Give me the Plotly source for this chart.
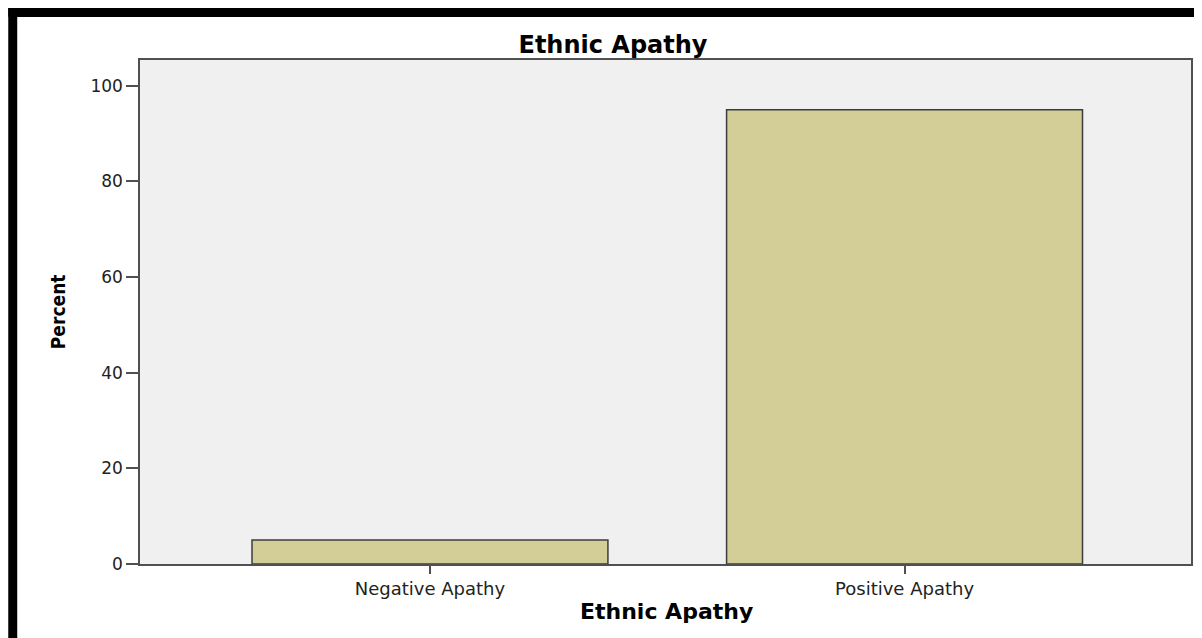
import plotly.graph_objects as go

categories = ["Negative Apathy", "Positive Apathy"]
percent = [5.0, 95.0]
y_ticks = [0, 20, 40, 60, 80, 100]

# page body has an 8px margin; lay out in page pixels, subtract offset
OFF = 8
PAGE_W, PAGE_H = 1202, 638
W, H = PAGE_W - 2 * OFF, PAGE_H - OFF
PLOT_L, PLOT_R, PLOT_T, PLOT_B = 140, 1193, 60, 564  # page pixels
L = PLOT_L - OFF
T = PLOT_T - OFF
R = W - (PLOT_R - OFF)
B = H - (PLOT_B - OFF)
pw, ph = W - L - R, H - T - B


def px_x(px):
    return (px - OFF - L) / pw


def px_y(py):
    return (H - B - (py - OFF)) / ph


fig = go.Figure(
    go.Bar(
        x=categories,
        y=percent,
        width=0.75,
        marker=dict(color="#d3ce98", line=dict(color="#3c3c3c", width=1.5)),
        hoverinfo="x+y",
    )
)

fig.update_layout(
    width=W,
    height=H,
    margin=dict(l=L, r=R, t=T, b=B),
    paper_bgcolor="#ffffff",
    plot_bgcolor="#f0f0f0",
    showlegend=False,
    title=dict(
        text="Ethnic Apathy",
        font=dict(family="DejaVu Sans", size=24, color="#000000", weight="bold"),
        x=(613 - OFF) / W,
        xref="container",
        xanchor="center",
        y=1 - (45 - OFF) / H,
        yref="container",
        yanchor="middle",
    ),
    xaxis=dict(
        type="category",
        range=[-0.611, 1.6036],
        showline=True,
        linecolor="#505050",
        linewidth=1.5,
        mirror=True,
        ticks="outside",
        ticklen=8,
        tickwidth=1.5,
        tickcolor="#505050",
        tickfont=dict(family="DejaVu Sans", size=18, color="#222222"),
        showgrid=False,
        zeroline=False,
    ),
    yaxis=dict(
        range=[0, 105.4],
        tickvals=y_ticks,
        showline=True,
        linecolor="#505050",
        linewidth=1.5,
        mirror=True,
        ticks="outside",
        ticklen=12,
        tickwidth=1.5,
        tickcolor="#505050",
        tickfont=dict(family="DejaVu Sans", size=17, color="#222222"),
        showgrid=False,
        zeroline=False,
    ),
    annotations=[
        dict(
            text="Ethnic Apathy",
            xref="paper",
            yref="paper",
            x=(668 - OFF - L) / pw,
            y=px_y(611),
            xanchor="center",
            yanchor="middle",
            showarrow=False,
            font=dict(family="DejaVu Sans", size=22, color="#000000", weight="bold"),
        ),
        dict(
            text="Percent",
            xref="paper",
            yref="paper",
            x=px_x(58),
            y=0.5,
            xanchor="center",
            yanchor="middle",
            textangle=-90,
            showarrow=False,
            font=dict(
                family="Liberation Sans Narrow, DejaVu Sans Condensed, Arial Narrow, DejaVu Sans",
                size=19,
                color="#000000",
                weight="bold",
            ),
        ),
    ],
    shapes=[
        dict(
            type="rect",
            xref="paper",
            yref="paper",
            x0=px_x(8),
            x1=px_x(PAGE_W + 10),
            y0=px_y(17),
            y1=px_y(8),
            fillcolor="#000000",
            line=dict(width=0),
            layer="above",
        ),
        dict(
            type="rect",
            xref="paper",
            yref="paper",
            x0=px_x(8),
            x1=px_x(17),
            y0=px_y(PAGE_H + 10),
            y1=px_y(8),
            fillcolor="#000000",
            line=dict(width=0),
            layer="above",
        ),
    ],
)

fig.write_html("out.html")
